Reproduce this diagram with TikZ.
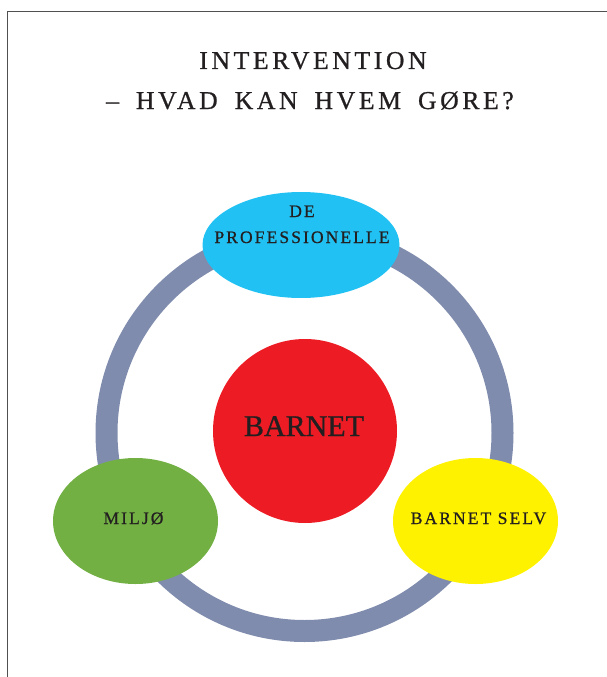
\documentclass[tikz,border=0pt]{standalone}
\usepackage{fontspec}
\setmainfont{Liberation Serif}
\newfontfamily\trkA[LetterSpace=14,FakeBold=0.8]{Liberation Serif}
\newfontfamily\trkB[LetterSpace=12,FakeBold=0.8]{Liberation Serif}
\newfontfamily\bigf[FakeBold=0.8]{Liberation Serif}
\usetikzlibrary{shapes.geometric}
\definecolor{ringc}{HTML}{808CAE}
\definecolor{bluec}{HTML}{21C1F3}
\definecolor{redc}{HTML}{ED1C24}
\definecolor{greenc}{HTML}{72B043}
\definecolor{yellowc}{HTML}{FFF200}
\definecolor{inkc}{HTML}{231F20}
\definecolor{framec}{HTML}{505050}
\newcommand\wordgap{\hspace{17pt}}
\tikzset{
  titletext/.style={anchor=base, inner sep=0pt, text=inkc, font=\trkA\fontsize{25.7}{30}\selectfont},
  smalltext/.style={anchor=base, inner sep=0pt, text=inkc, font=\trkB\fontsize{17.5}{20}\selectfont},
  bigtext/.style={anchor=base, inner sep=0pt, text=inkc, font=\bigf\fontsize{30}{34}\selectfont},
  blob/.style={ellipse, inner sep=0pt, outer sep=0pt, draw=none},
}
\begin{document}
\begin{tikzpicture}[x=1pt,y=-1pt]
\useasboundingbox (0,0) rectangle (607,677);
% frame
\draw[framec, line width=1.6pt] (7.5,677) -- (7.5,11.5) -- (607,11.5);
% title
\node[titletext] (t1) at (313,69) {INTERVENTION};
\node[titletext] (t2) at (310,109) {–\wordgap HVAD\wordgap KAN\wordgap HVEM\wordgap GØRE?};
% ring
\node[circle, inner sep=0pt, minimum size=396pt, draw=ringc, line width=22pt] (ring) at (304.5,433) {};
% ellipses
\node[blob, fill=bluec, minimum width=197pt, minimum height=106pt] (prof) at (301,245) {};
\node[blob, fill=greenc, minimum width=165pt, minimum height=126pt] (milj) at (135.5,521) {};
\node[blob, fill=yellowc, minimum width=165pt, minimum height=126pt] (selv) at (475.5,521) {};
\node[circle, inner sep=0pt, fill=redc, minimum size=184pt] (barn) at (305,431) {};
% texts
\node[smalltext] (proft1) at (302,217) {DE};
\node[smalltext] (proft2) at (302,243) {PROFESSIONELLE};
\node[smalltext] (miljt) at (133.5,524) {MILJØ};
\node[smalltext] (selvt) at (478.5,524) {BARNET SELV};
\node[bigtext] (barnt) at (304,436) {BARNET};
\end{tikzpicture}
\end{document}
